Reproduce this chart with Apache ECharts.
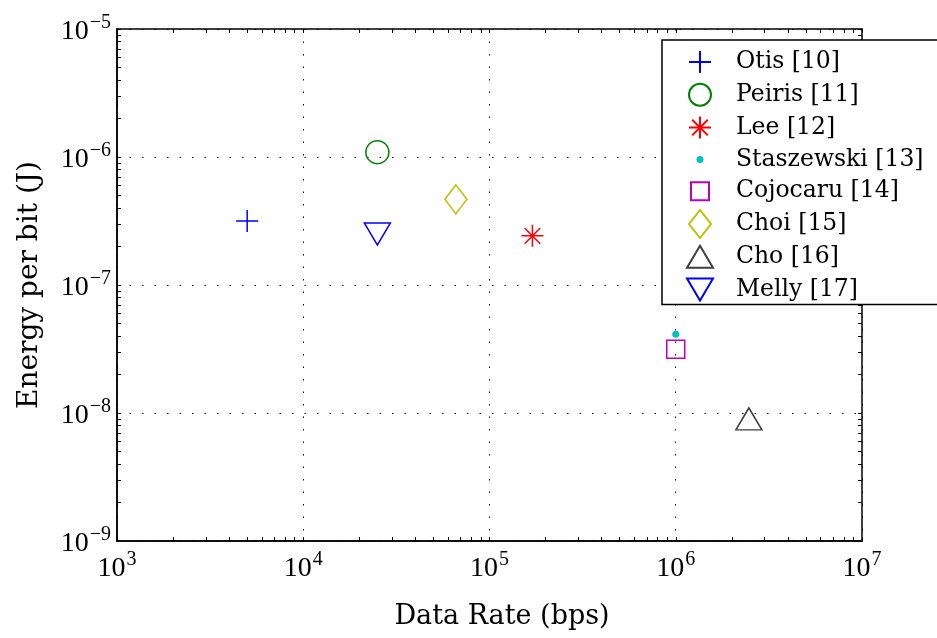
<!DOCTYPE html>
<html><head><meta charset="utf-8">
<script src="https://cdn.jsdelivr.net/npm/echarts@6/dist/echarts.min.js"></script>
<style>html,body{margin:0;padding:0;background:#fff}#c{width:937px;height:638px}</style>
</head><body><div id="c"></div>
<script>
const names = ['Otis [10]', 'Peiris [11]', 'Lee [12]', 'Staszewski [13]', 'Cojocaru [14]', 'Choi [15]', 'Cho [16]', 'Melly [17]'];
const dataRates = [5.0e3, 2.5e4, 1.7e5, 1.0e6, 1.0e6, 6.6e4, 2.47e6, 2.5e4];
const energies = [3.16e-7, 1.09e-6, 2.42e-7, 4.12e-8, 3.15e-8, 4.67e-7, 9.0e-9, 2.5e-7];
const colors = ['#0000ff', '#008000', '#ff0000', '#00bfbf', '#bf00bf', '#bfbf00', '#404040', '#0000ff'];
const xExponents = [3, 4, 5, 6, 7];
const yExponents = [-9, -8, -7, -6, -5];

const FONT = 'DejaVu Serif';
const TICKFONT = 'Liberation Serif';
const symbols = [
  'path://M0,5L10,5M5,0L5,10',
  'circle',
  'path://M0,5L10,5M5,0L5,10M1.46,1.46L8.54,8.54M1.46,8.54L8.54,1.46',
  'circle',
  'rect',
  'diamond',
  'triangle',
  'path://M0,0L10,0L5,8.66Z'
];
// legend icons drawn inside a fixed 30x28 box so each keeps its own marker size
const legendIcons = [
  'path://M0,0M30,28M4,14L26,14M15,3L15,25',
  'path://M0,0M30,28M4,14a11,11 0 1,0 22,0a11,11 0 1,0 -22,0Z',
  'path://M0,0M30,28M4,14L26,14M15,3L15,25M7.2,6.2L22.8,21.8M7.2,21.8L22.8,6.2',
  'path://M0,0M30,28M11.5,14a3.5,3.5 0 1,0 7,0a3.5,3.5 0 1,0 -7,0Z',
  'path://M0,0M30,28M6,5L24,5L24,23L6,23Z',
  'path://M0,0M30,28M15,0L26,14L15,28L4,14Z',
  'path://M0,0M30,28M2,25L28,25L15,3Z',
  'path://M0,0M30,28M2,3L28,3L15,25Z'
];
const sizes = [22, 23, 22, 7, 18, [22, 29], [26, 22], [26, 22]];
const filled = [false, false, false, true, false, false, false, false];

function minorVals(exps) {
  const out = [];
  for (let i = 0; i < exps.length - 1; i++) {
    for (let k = 1; k <= 9; k++) out.push(exps[i] + Math.log10(k));
  }
  out.push(exps[exps.length - 1]);
  return out;
}

function expLabel(v) {
  const e = Math.round(Math.log10(v));
  return '{b|10}{s|' + (e < 0 ? '\u2212' + (-e) : e) + '}';
}
const rich = {
  b: { fontFamily: TICKFONT, fontSize: 28, color: '#000', verticalAlign: 'bottom', lineHeight: 34 },
  s: { fontFamily: TICKFONT, fontSize: 20, color: '#000', verticalAlign: 'bottom', lineHeight: 34, padding: [0, 0, 13, 1] }
};

const series = names.map((n, i) => ({
  name: n,
  type: 'scatter',
  xAxisIndex: 0,
  yAxisIndex: 0,
  symbol: symbols[i],
  symbolSize: sizes[i],
  symbolKeepAspect: false,
  itemStyle: filled[i]
    ? { color: colors[i], borderWidth: 0, opacity: 1 }
    : { color: 'rgba(0,0,0,0)', borderColor: colors[i], borderWidth: 1.5, opacity: 1 },
  emphasis: { disabled: true },
  data: [[dataRates[i], energies[i]]]
}));

const tickAxisCommon = {
  type: 'value',
  axisLabel: { show: false },
  splitLine: { show: false },
  axisLine: { show: true, lineStyle: { color: '#000', width: 1.5 } },
  axisTick: { show: true, inside: true, length: 4, lineStyle: { color: '#000', width: 1 } }
};

const option = {
  animation: false,
  backgroundColor: '#fff',
  grid: { left: 117, right: 75, top: 29, bottom: 97 },
  xAxis: [
    {
      type: 'log', logBase: 10, min: 1e3, max: 1e7, position: 'bottom',
      name: 'Data Rate (bps)', nameLocation: 'middle', nameGap: 62,
      nameTextStyle: { fontFamily: FONT, fontSize: 27, color: '#000', padding: [0, 0, 0, 25] },
      axisLine: { show: true, lineStyle: { color: '#000', width: 1.5 } },
      axisTick: { show: false },
      axisLabel: { formatter: expLabel, rich: rich, margin: 8 },
      splitLine: { show: true, lineStyle: { color: '#000', width: 1, type: [1.5, 11] } }
    },
    Object.assign({}, tickAxisCommon, { min: 3, max: 7, position: 'top', axisTick: Object.assign({}, tickAxisCommon.axisTick, { customValues: minorVals(xExponents) }) }),
    Object.assign({}, tickAxisCommon, { min: 3, max: 7, position: 'bottom', axisTick: Object.assign({}, tickAxisCommon.axisTick, { customValues: minorVals(xExponents) }) })
  ],
  yAxis: [
    {
      type: 'log', logBase: 10, min: 1e-9, max: 1e-5, position: 'left',
      name: 'Energy per bit (J)', nameLocation: 'middle', nameGap: 73,
      nameTextStyle: { fontFamily: FONT, fontSize: 28, color: '#000' },
      axisLine: { show: true, lineStyle: { color: '#000', width: 1.5 } },
      axisTick: { show: false },
      axisLabel: { formatter: expLabel, rich: rich, margin: 6 },
      splitLine: { show: true, lineStyle: { color: '#000', width: 1, type: [1.5, 11] } }
    },
    Object.assign({}, tickAxisCommon, { min: -9, max: -5, position: 'right', axisTick: Object.assign({}, tickAxisCommon.axisTick, { customValues: minorVals(yExponents) }) }),
    Object.assign({}, tickAxisCommon, { min: -9, max: -5, position: 'left', axisTick: Object.assign({}, tickAxisCommon.axisTick, { customValues: minorVals(yExponents) }) })
  ],
  legend: {
    orient: 'vertical',
    left: 662,
    top: 40,
    itemWidth: 30,
    itemHeight: 28,
    itemGap: 2.8,
    padding: [7, 120, 0, 22],
    backgroundColor: '#fff',
    borderColor: '#000',
    borderWidth: 1.5,
    selectedMode: false,
    textStyle: { fontFamily: FONT, fontSize: 23.5, color: '#000', padding: [0, 0, 0, 16] },
    data: names.map((n, i) => ({ name: n, icon: legendIcons[i] }))
  },
  series: series
};

const chart = echarts.init(document.getElementById('c'), null, { renderer: 'canvas' });
chart.setOption(option);
</script>
</body></html>
